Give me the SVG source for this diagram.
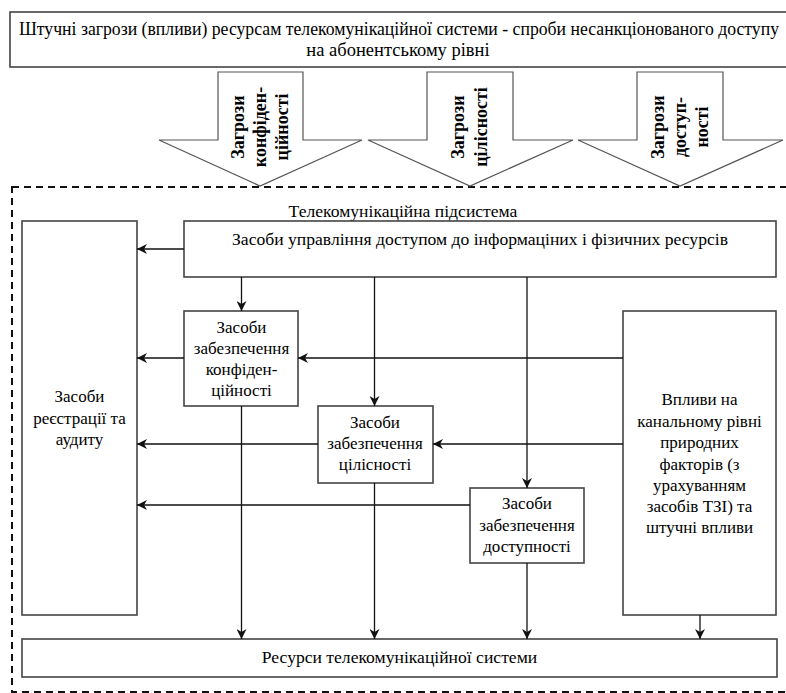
<svg xmlns="http://www.w3.org/2000/svg" width="786" height="693" viewBox="0 0 786 693">
  <defs>
    <marker id="arr" viewBox="0 0 10 10" refX="10" refY="5" markerWidth="10" markerHeight="10" markerUnits="userSpaceOnUse" orient="auto">
      <path d="M0,0 L10,5 L0,10 L3,5 z" fill="#111"/>
    </marker>
    <style>
      .box { fill: #fff; stroke: #444; stroke-width: 1.6; }
      .blk { fill: #fff; stroke: #555; stroke-width: 1.2; }
      .t { font-family: 'Liberation Serif', 'DejaVu Serif', serif; font-size: 17px; fill: #000; text-anchor: middle; }
      .tw { font-size: 17.6px; }
      .tb { font-family: 'Liberation Serif', 'DejaVu Serif', serif; font-size: 18px; font-weight: bold; fill: #000; text-anchor: middle; }
      .conn line { stroke: #111; stroke-width: 1.3; fill: none; }
      .arrowed { marker-end: url(#arr); }
    </style>
  </defs>
  <rect width="786" height="693" fill="#fff"/>

  <!-- top banner -->
  <g id="threats-banner">
    <rect class="box" x="10" y="12" width="790" height="55"/>
    <text class="t" x="399" y="35" style="font-size:18.5px" textLength="760" lengthAdjust="spacingAndGlyphs">Штучні загрози (впливи) ресурсам телекомунікаційної системи - спроби несанкціонованого доступу</text>
    <text class="t" x="398" y="56" style="font-size:18.5px">на абонентському рівні</text>
  </g>

  <!-- subsystem boundary -->
  <g id="subsystem">
    <rect x="12" y="187" width="800" height="505" fill="none" stroke="#111" stroke-width="2" stroke-dasharray="7 5"/>
    <text class="t tw" x="403" y="217">Телекомунікаційна підсистема</text>
  </g>

  <!-- block arrows with threat labels -->
  <g id="threat-confidentiality">
    <polygon class="blk" points="218,72 303,72 303,140 362,140 260,186 159,140 218,140"/>
    <text class="tb" transform="translate(244,127) rotate(-90)">Загрози</text>
    <text class="tb" transform="translate(266,127) rotate(-90)">конфіден-</text>
    <text class="tb" transform="translate(288,127) rotate(-90)">ційності</text>
  </g>
  <g id="threat-integrity">
    <polygon class="blk" points="427,72 513,72 513,140 573,140 470,186 368,140 427,140"/>
    <text class="tb" transform="translate(464,127) rotate(-90)">Загрози</text>
    <text class="tb" transform="translate(487,127) rotate(-90)">цілісності</text>
  </g>
  <g id="threat-availability">
    <polygon class="blk" points="637,72 723,72 723,140 783,140 680,186 578,140 637,140"/>
    <text class="tb" transform="translate(664,127) rotate(-90)">Загрози</text>
    <text class="tb" transform="translate(686,127) rotate(-90)">доступ-</text>
    <text class="tb" transform="translate(708,127) rotate(-90)">ності</text>
  </g>

  <!-- nodes -->
  <g id="access-control">
    <rect class="box" x="184" y="221" width="592" height="56"/>
    <text class="t tw" x="480" y="245">Засоби управління доступом до інформаціних і фізичних ресурсів</text>
  </g>
  <g id="audit">
    <rect class="box" x="22" y="221" width="115" height="394"/>
    <text class="t" x="79.5" y="402">Засоби</text>
    <text class="t" x="79.5" y="423.5">реєстрації та</text>
    <text class="t" x="79.5" y="445">аудиту</text>
  </g>
  <g id="confidentiality">
    <rect class="box" x="184" y="311" width="114" height="95"/>
    <text class="t" x="241.5" y="333">Засоби</text>
    <text class="t" x="241.5" y="354">забезпечення</text>
    <text class="t" x="241.5" y="375">конфіден-</text>
    <text class="t" x="241.5" y="396">ційності</text>
  </g>
  <g id="integrity">
    <rect class="box" x="318" y="406" width="115" height="77"/>
    <text class="t" x="375" y="428">Засоби</text>
    <text class="t" x="375" y="449">забезпечення</text>
    <text class="t" x="375" y="470">цілісності</text>
  </g>
  <g id="availability">
    <rect class="box" x="470" y="488" width="114" height="75"/>
    <text class="t" x="527" y="509">Засоби</text>
    <text class="t" x="527" y="531">забезпечення</text>
    <text class="t" x="527" y="552">доступності</text>
  </g>
  <g id="channel-impacts">
    <rect class="box" x="623" y="311" width="153" height="304"/>
    <text class="t" x="699.5" y="405">Впливи на</text>
    <text class="t" x="699.5" y="426.5">канальному рівні</text>
    <text class="t" x="699.5" y="448">природних</text>
    <text class="t" x="699.5" y="469.5">факторів (з</text>
    <text class="t" x="699.5" y="491">урахуванням</text>
    <text class="t" x="699.5" y="512">засобів ТЗІ) та</text>
    <text class="t" x="699.5" y="533">штучні впливи</text>
  </g>
  <g id="resources">
    <rect class="box" x="22" y="639" width="755" height="38"/>
    <text class="t tw" x="399.5" y="663">Ресурси телекомунікаційної системи</text>
  </g>

  <!-- connectors -->
  <g id="connectors" class="conn">
    <line class="arrowed" x1="184" y1="249" x2="137" y2="249"/>
    <line class="arrowed" x1="241.5" y1="277" x2="241.5" y2="311"/>
    <line class="arrowed" x1="374.5" y1="277" x2="374.5" y2="406"/>
    <line class="arrowed" x1="527" y1="277" x2="527" y2="488"/>
    <line class="arrowed" x1="623" y1="358" x2="298" y2="358"/>
    <line class="arrowed" x1="184" y1="358" x2="137" y2="358"/>
    <line class="arrowed" x1="623" y1="444" x2="433" y2="444"/>
    <line class="arrowed" x1="318" y1="444" x2="137" y2="444"/>
    <line class="arrowed" x1="470" y1="505" x2="137" y2="505"/>
    <line class="arrowed" x1="241.5" y1="406" x2="241.5" y2="639"/>
    <line class="arrowed" x1="374.5" y1="483" x2="374.5" y2="639"/>
    <line class="arrowed" x1="527" y1="563" x2="527" y2="639"/>
    <line class="arrowed" x1="700" y1="615" x2="700" y2="639"/>
  </g>
</svg>
